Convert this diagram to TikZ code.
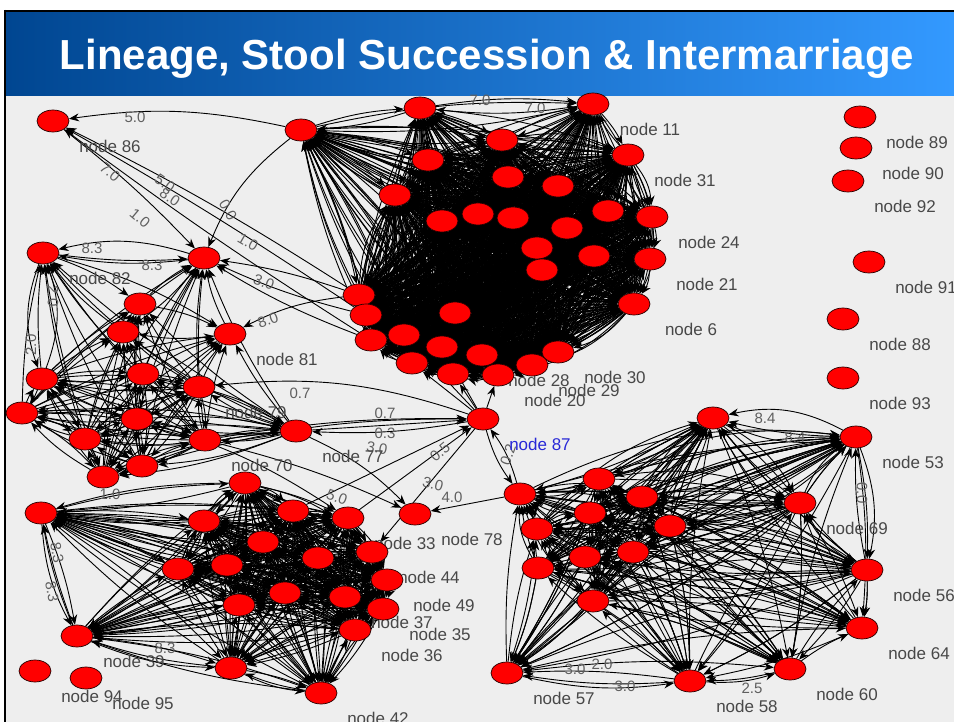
\documentclass[tikz,border=0pt]{standalone}
\usepackage{fontspec}
\setmainfont{Liberation Sans}
\usetikzlibrary{arrows.meta,backgrounds,shapes.geometric}
\definecolor{nodered}{RGB}{255,0,0}
\definecolor{canvas}{RGB}{238,238,238}
\definecolor{labgray}{RGB}{72,72,72}
\definecolor{edgegray}{RGB}{95,95,95}
\definecolor{tleft}{RGB}{0,70,145}
\definecolor{tright}{RGB}{51,153,255}
\definecolor{nblue}{RGB}{40,40,215}
% single-direction clique
\newcommand\cliq[4]{%
\foreach \i in {#2,...,#3}{%
 \foreach \j in {#2,...,#3}{%
  \ifnum\i<\j
   \pgfmathtruncatemacro\pp{mod(\i+\j,2)}%
   \ifnum\pp=0 \draw[ed] (#1\i) to[bend left=#4] (#1\j);%
   \else \draw[ed] (#1\j) to[bend left=#4] (#1\i);\fi
  \fi}}}
% two-direction clique
\newcommand\cliqb[4]{%
\foreach \i in {#2,...,#3}{%
 \foreach \j in {#2,...,#3}{%
  \ifnum\i=\j\relax\else
   \draw[ed] (#1\i) to[bend left=#4] (#1\j);%
  \fi}}}
\begin{document}
\begin{tikzpicture}[x=1pt,y=-1pt,
 dot/.style={ellipse, draw=black!85!red, line width=0.7pt, fill=nodered, minimum width=32pt, minimum height=22pt, inner sep=0pt},
 lab/.style={text=labgray, font=\fontsize{17}{17}\selectfont, inner sep=0pt},
 lbl/.style={label={[lab,xshift=57pt,yshift=-25pt]center:#1}},
 blbl/.style={label={[lab,text=nblue,xshift=57pt,yshift=-25pt]center:#1}},
 ed/.style={draw=black, line width=0.9pt, -{Stealth[length=10pt,width=8pt]}},
 elab/.style={text=edgegray, font=\fontsize{15}{15}\selectfont, inner sep=0pt}]
\useasboundingbox (0,0) rectangle (954,722);
\begin{pgfonlayer}{background}
\fill[white] (0,0) rectangle (954,722);
\fill[canvas] (6,96) rectangle (954,722);
\end{pgfonlayer}
% title bar
\shade[left color=tleft,right color=tright] (6,12) rectangle (954,96);
\draw[line width=2pt] (5,11) -- (954,11);
\draw[line width=2.5pt] (5,10) -- (5,722);
\node[font=\bfseries\fontsize{42}{42}\selectfont, text=white, anchor=base, inner sep=0pt] (title) at (487,70) {Lineage, Stool Succession \& Intermarriage};
% edge labels
\node[elab] (e1) at (135,117) {5.0};
\node[elab,rotate=-40] (e2) at (110,172) {7.0};
\node[elab,rotate=-35] (e3) at (165,183) {5.0};
\node[elab,rotate=-35] (e4) at (170,197) {8.0};
\node[elab,rotate=-40] (e5) at (140,218) {1.0};
\node[elab,rotate=-60] (e6) at (228,210) {0.0};
\node[elab,rotate=-30] (e7) at (248,242) {1.0};
\node[elab] (e8) at (92,248) {8.3};
\node[elab] (e9) at (152,265) {8.3};
\node[elab,rotate=-90] (e10) at (53,296) {2.0};
\node[elab,rotate=90] (e11) at (31,345) {2.0};
\node[elab,rotate=20] (e12) at (268,320) {8.0};
\node[elab,rotate=-20] (e13) at (264,282) {3.0};
\node[elab] (e14) at (300,393) {0.7};
\node[elab] (e15) at (385,413) {0.7};
\node[elab] (e16) at (385,433) {0.3};
\node[elab,rotate=-10] (e17) at (377,448) {3.0};
\node[elab,rotate=40] (e18) at (440,452) {0.5};
\node[elab,rotate=-15] (e19) at (433,484) {3.0};
\node[elab,rotate=-20] (e20) at (337,497) {5.0};
\node[elab,rotate=70] (e21) at (508,455) {0.2};
\node[elab] (e22) at (452,497) {4.0};
\node[elab] (e23) at (765,418) {8.4};
\node[elab] (e24) at (795,437) {8.4};
\node[elab,rotate=-80] (e25) at (57,553) {8.3};
\node[elab,rotate=-80] (e26) at (52,592) {8.3};
\node[elab] (e27) at (110,494) {1.0};
\node[elab] (e28) at (625,686) {3.0};
\node[elab] (e29) at (575,669) {3.0};
\node[elab] (e30) at (602,664) {2.0};
\node[elab] (e31) at (480,100) {7.0};
\node[elab] (e32) at (535,108) {7.0};
\node[elab,rotate=-90] (e33) at (862,493) {0.0};
\node[elab] (e34) at (752,688) {2.5};
\node[elab] (e35) at (165,648) {8.3};
% top cluster
\node[dot] (t0) at (301,130) {};
\node[dot] (t1) at (420,108) {};
\node[dot,lbl={node 11}] (t2) at (593,104) {};
\node[dot] (t3) at (502,140) {};
\node[dot,lbl={node 31}] (t4) at (628,155) {};
\node[dot] (t5) at (428,160) {};
\node[dot] (t6) at (508,177) {};
\node[dot] (t7) at (558,186) {};
\node[dot] (t8) at (395,195) {};
\node[dot] (t9) at (478,214) {};
\node[dot] (t10) at (513,218) {};
\node[dot] (t11) at (442,221) {};
\node[dot] (t12) at (608,211) {};
\node[dot,lbl={node 24}] (t13) at (652,217) {};
\node[dot] (t14) at (567,228) {};
\node[dot] (t15) at (537,248) {};
\node[dot] (t16) at (594,256) {};
\node[dot,lbl={node 21}] (t17) at (650,259) {};
\node[dot] (t18) at (542,270) {};
\node[dot,lbl={node 6}] (t19) at (634,304) {};
\node[dot] (t20) at (359,295) {};
\node[dot] (t21) at (366,315) {};
\node[dot] (t22) at (455,313) {};
\node[dot] (t23) at (371,340) {};
\node[dot] (t24) at (404,335) {};
\node[dot] (t25) at (442,347) {};
\node[dot,lbl={node 28}] (t26) at (482,355) {};
\node[dot,lbl={node 30}] (t27) at (558,352) {};
\node[dot] (t28) at (412,363) {};
\node[dot] (t29) at (453,374) {};
\node[dot,lbl={node 20}] (t30) at (498,375) {};
\node[dot,lbl={node 29}] (t31) at (532,365) {};
% top-left cluster
\node[dot,lbl={node 86}] (p86) at (53,121) {};
\node[dot,lbl={node 82}] (l1) at (43,253) {};
\node[dot] (l2) at (204,258) {};
\node[dot] (l3) at (140,304) {};
\node[dot] (l4) at (123,332) {};
\node[dot,lbl={node 81}] (l5) at (230,334) {};
\node[dot] (l6) at (42,379) {};
\node[dot] (l7) at (143,374) {};
\node[dot,lbl={node 79}] (l8) at (199,387) {};
\node[dot] (l9) at (22,413) {};
\node[dot] (l10) at (137,419) {};
\node[dot] (l11) at (85,439) {};
\node[dot,lbl={node 70}] (l12) at (205,440) {};
\node[dot] (l13) at (103,477) {};
\node[dot] (l14) at (142,466) {};
\node[dot,lbl={node 77}] (l15) at (296,431) {};
\node[dot,blbl={node 87}] (p87) at (483,419) {};
% bottom-left cluster
\node[dot] (b1) at (41,513) {};
\node[dot] (b2) at (245,483) {};
\node[dot] (b3) at (204,521) {};
\node[dot] (b4) at (293,511) {};
\node[dot,lbl={node 33}] (b5) at (348,518) {};
\node[dot] (b6) at (263,542) {};
\node[dot] (b7) at (318,558) {};
\node[dot,lbl={node 44}] (b8) at (372,552) {};
\node[dot] (b9) at (178,569) {};
\node[dot] (b10) at (227,565) {};
\node[dot,lbl={node 49}] (b11) at (387,580) {};
\node[dot] (b12) at (285,593) {};
\node[dot,lbl={node 37}] (b13) at (345,597) {};
\node[dot] (b14) at (239,605) {};
\node[dot,lbl={node 35}] (b15) at (383,609) {};
\node[dot,lbl={node 36}] (b16) at (355,630) {};
\node[dot,lbl={node 39}] (b17) at (77,636) {};
\node[dot] (b18) at (231,668) {};
\node[dot,lbl={node 42}] (b19) at (321,693) {};
\node[dot,lbl={node 78}] (p78) at (415,514) {};
\node[dot,lbl={node 94}] (p94) at (35,671) {};
\node[dot,lbl={node 95}] (p95) at (86,678) {};
% bottom-right cluster
\node[dot] (r1) at (520,494) {};
\node[dot] (r2) at (713,418) {};
\node[dot,lbl={node 53}] (r3) at (856,437) {};
\node[dot] (r4) at (599,479) {};
\node[dot] (r5) at (642,497) {};
\node[dot] (r6) at (590,513) {};
\node[dot] (r7) at (670,526) {};
\node[dot,lbl={node 69}] (r8) at (800,503) {};
\node[dot] (r9) at (537,529) {};
\node[dot] (r10) at (585,557) {};
\node[dot] (r11) at (633,552) {};
\node[dot] (r12) at (538,568) {};
\node[dot,lbl={node 56}] (r13) at (867,570) {};
\node[dot] (r14) at (593,601) {};
\node[dot,lbl={node 64}] (r15) at (862,628) {};
\node[dot,lbl={node 57}] (r16) at (507,673) {};
\node[dot,lbl={node 58}] (r17) at (690,681) {};
\node[dot,lbl={node 60}] (r18) at (790,669) {};
% isolated nodes
\node[dot,lbl={node 89}] (p89) at (860,117) {};
\node[dot,lbl={node 90}] (p90) at (856,148) {};
\node[dot,lbl={node 92}] (p92) at (848,181) {};
\node[dot,lbl={node 91}] (p91) at (869,262) {};
\node[dot,lbl={node 88}] (p88) at (843,319) {};
\node[dot,lbl={node 93}] (p93) at (843,378) {};
% edges
\begin{pgfonlayer}{background}
\cliqb{t}{0}{31}{7}
\cliqb{t}{3}{31}{17}
\cliq{l}{1}{5}{8}
\cliqb{l}{6}{15}{8}
\foreach \a in {1,...,5}{\foreach \b in {6,...,15}{\draw[ed] (l\b) to[bend left=6] (l\a);}}
\cliqb{b}{1}{19}{6}
\cliq{b}{2}{16}{16}
\cliq{r}{1}{18}{6}
\cliq{r}{1}{14}{16}
\foreach \a in {2,3,16,17,18,15}{\foreach \b in {4,...,14}{\draw[ed] (r\b) to[bend left=6] (r\a);}}
\draw[ed] (t0) to[bend right=10] (p86);
\draw[ed] (p86) to[bend left=4] (l2);
\draw[ed] (t20) to[bend right=3] (p86);
\draw[ed] (t21) to[bend right=2] (p86);
\draw[ed] (t23) to[bend left=2] (p86);
\draw[ed] (t0) to[bend right=15] (l2);
\draw[ed] (t20) to[bend right=5] (l2);
\draw[ed] (t21) to[bend left=5] (l2);
\draw[ed] (t23) to[bend left=5] (l2);
\draw[ed] (t20) to[bend right=10] (l5);
\draw[ed] (l2) to[bend right=15] (l1);
\draw[ed] (l1) to[bend right=5] (l2);
\draw[ed] (l1) to[bend right=20] (l6);
\draw[ed] (l6) to[bend right=20] (l1);
\draw[ed] (p87) to[bend right=12] (l8);
\draw[ed] (l15) -- (p87);
\draw[ed] (p87) to[bend left=6] (l15);
\draw[ed] (p87) -- (t28);
\draw[ed] (p87) -- (t29);
\draw[ed] (p87) -- (t25);
\draw[ed] (p87) -- (t24);
\draw[ed] (p87) -- (t30);
\draw[ed] (l12) to[bend left=5] (p87);
\draw[ed] (l14) to[bend left=8] (p87);
\draw[ed] (b5) -- (p87);
\draw[ed] (b4) -- (p87);
\draw[ed] (p87) -- (b8);
\draw[ed] (p87) to[bend right=10] (r1);
\draw[ed] (r1) to[bend right=10] (p87);
\draw[ed] (r1) -- (p78);
\draw[ed] (l15) to[bend left=10] (p78);
\draw[ed] (l12) to[bend left=5] (p78);
\draw[ed] (l10) to[bend left=8] (b5);
\draw[ed] (r3) to[bend right=20] (r2);
\draw[ed] (b1) to[bend right=12] (b17);
\draw[ed] (b17) to[bend left=4] (b1);
\draw[ed] (b2) to[bend right=8] (b1);
\draw[ed] (r16) to[bend right=10] (r17);
\draw[ed] (r17) to[bend right=5] (r16);
\draw[ed] (r17) to[bend right=10] (r18);
\draw[ed] (b17) to[bend right=10] (b18);
\draw[ed] (b18) to[bend right=10] (b19);
\end{pgfonlayer}
\end{tikzpicture}
\end{document}
